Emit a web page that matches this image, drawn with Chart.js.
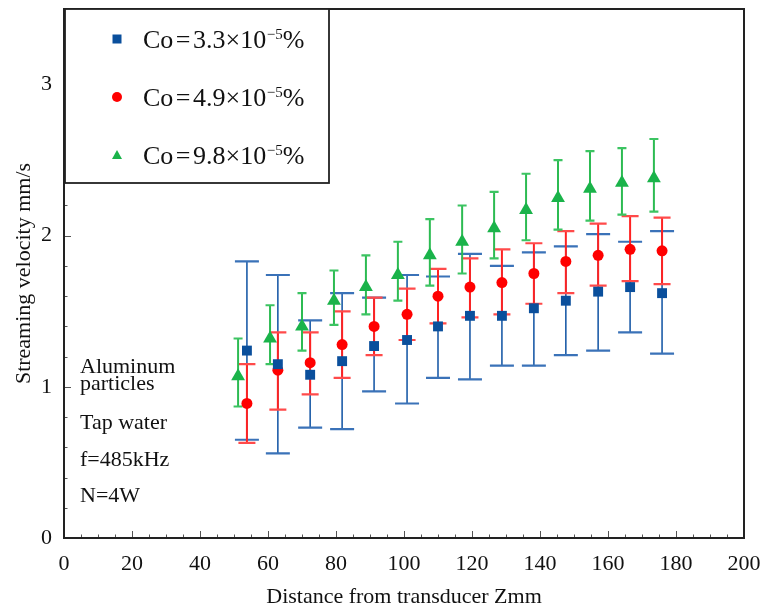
<!DOCTYPE html>
<html><head><meta charset="utf-8">
<script src="https://cdn.jsdelivr.net/npm/chart.js@4.4.1/dist/chart.umd.min.js"></script>
<style>html,body{margin:0;padding:0;background:#fff}#wrap{width:766px;height:610px}</style>
</head><body><div id="wrap"><canvas id="c" width="766" height="610"></canvas></div>
<script>
// ---- data ----
const distanceAB = [53.8, 62.9, 72.4, 81.8, 91.2, 100.9, 110.0, 119.4, 128.8, 138.2, 147.6, 157.1, 166.5, 175.9];
const distanceC  = [51.2, 60.6, 70.0, 79.4, 88.8, 98.2, 107.6, 117.1, 126.5, 135.9, 145.3, 154.7, 164.1, 173.5];

const velA      = [1.24, 1.15, 1.08, 1.17, 1.27, 1.31, 1.40, 1.47, 1.47, 1.52, 1.57, 1.63, 1.66, 1.62];
const velAUpper = [1.83, 1.74, 1.44, 1.62, 1.59, 1.74, 1.73, 1.88, 1.80, 1.89, 1.93, 2.01, 1.96, 2.03];
const velALower = [0.65, 0.56, 0.73, 0.72, 0.97, 0.89, 1.06, 1.05, 1.14, 1.14, 1.21, 1.24, 1.36, 1.22];

const velB      = [0.89, 1.11, 1.16, 1.28, 1.40, 1.48, 1.60, 1.66, 1.69, 1.75, 1.83, 1.87, 1.91, 1.90];
const velBUpper = [1.15, 1.36, 1.36, 1.50, 1.59, 1.65, 1.78, 1.85, 1.91, 1.95, 2.03, 2.08, 2.13, 2.12];
const velBLower = [0.63, 0.85, 0.95, 1.06, 1.21, 1.31, 1.42, 1.46, 1.48, 1.55, 1.62, 1.67, 1.70, 1.68];

const velC      = [1.07, 1.32, 1.40, 1.57, 1.66, 1.74, 1.87, 1.96, 2.05, 2.17, 2.25, 2.31, 2.35, 2.38];
const velCUpper = [1.32, 1.54, 1.62, 1.77, 1.87, 1.96, 2.11, 2.20, 2.29, 2.41, 2.50, 2.56, 2.58, 2.64];
const velCLower = [0.87, 1.15, 1.24, 1.41, 1.48, 1.57, 1.67, 1.75, 1.85, 1.97, 2.04, 2.10, 2.14, 2.16];

const seriesMantissa = ['3.3', '4.9', '9.8'];
const notes = ['Aluminum', 'particles', 'Tap water', 'f=485kHz', 'N=4W'];
const xTitle = 'Distance from transducer Zmm';
const yTitle = 'Streaming velocity mm/s';

// ---- helpers ----
const SERIF = '"Liberation Serif", "Times New Roman", serif';
const pts = (xs, ys) => xs.map((x, i) => ({x, y: ys[i]}));

const errSpecs = [
  {xs: distanceAB, up: velAUpper, lo: velALower, color: '#1d5ca8', cap: '#3a72b8', capW: 24, lw: 1.6},
  {xs: distanceAB, up: velBUpper, lo: velBLower, color: '#ff2222', cap: '#ff4a4a', capW: 17, lw: 2},
  {xs: distanceC,  up: velCUpper, lo: velCLower, color: '#2cbb52', cap: '#3cc462', capW: 9,  lw: 2}
];

const errorBars = {
  id: 'errorBars',
  beforeDatasetsDraw(chart) {
    const {ctx, scales: {x, y}} = chart;
    ctx.save();
    errSpecs.forEach(s => {
      s.xs.forEach((xv, i) => {
        const px = x.getPixelForValue(xv);
        const pt = y.getPixelForValue(s.up[i]);
        const pb = y.getPixelForValue(s.lo[i]);
        ctx.strokeStyle = s.color; ctx.lineWidth = s.lw;
        ctx.beginPath(); ctx.moveTo(px, pt); ctx.lineTo(px, pb); ctx.stroke();
        ctx.strokeStyle = s.cap; ctx.lineWidth = 2.2;
        ctx.beginPath();
        ctx.moveTo(px - s.capW / 2, pt); ctx.lineTo(px + s.capW / 2, pt);
        ctx.moveTo(px - s.capW / 2, pb); ctx.lineTo(px + s.capW / 2, pb);
        ctx.stroke();
      });
    });
    ctx.restore();
  }
};

const frame = {
  id: 'frame',
  afterDraw(chart) {
    const {ctx, chartArea: a, scales: {x, y}} = chart;
    ctx.save();
    // inward tick marks
    ctx.strokeStyle = '#555'; ctx.lineWidth = 1;
    ctx.beginPath();
    for (let v = 0; v <= 200; v += 5) {
      const px = Math.round(x.getPixelForValue(v)) + 0.5;
      const len = v % 20 === 0 ? 7 : 3.5;
      ctx.moveTo(px, a.bottom); ctx.lineTo(px, a.bottom - len);
    }
    for (let k = 0; k <= 17; k++) {
      const v = k * 0.2;
      const py = Math.round(y.getPixelForValue(v)) + 0.5;
      const len = k % 5 === 0 ? 7 : 3.5;
      ctx.moveTo(a.left, py); ctx.lineTo(a.left + len, py);
    }
    ctx.stroke();
    // frame
    ctx.strokeStyle = '#222'; ctx.lineWidth = 2;
    ctx.strokeRect(a.left, a.top, a.right - a.left, a.bottom - a.top);

    // legend box
    const lx = a.left + 1, ly = a.top, lw = 264, lh = 174;
    ctx.fillStyle = '#fff';
    ctx.fillRect(lx, ly, lw, lh);
    ctx.strokeStyle = '#222'; ctx.lineWidth = 1.8;
    ctx.strokeRect(lx, ly, lw, lh);
    const colors = ['#0a4f9c', '#ff0000', '#1ab34a'];
    const rowsY = [39, 97, 155];
    rowsY.forEach((cy, i) => {
      ctx.fillStyle = colors[i];
      const mx = 117;
      ctx.beginPath();
      if (i === 0) ctx.rect(mx - 4.5, cy - 4.5, 9, 9);
      else if (i === 1) ctx.arc(mx, cy, 5, 0, Math.PI * 2);
      else { ctx.moveTo(mx, cy - 5); ctx.lineTo(mx + 5, cy + 4); ctx.lineTo(mx - 5, cy + 4); ctx.closePath(); }
      ctx.fill();
      // label
      ctx.fillStyle = '#111';
      ctx.textBaseline = 'alphabetic'; ctx.textAlign = 'left';
      const base = cy + 9;
      let tx = 143;
      ctx.font = '26px ' + SERIF;
      const put = (t, gap) => { ctx.fillText(t, tx, base); tx += ctx.measureText(t).width + (gap || 0); };
      put('Co', 2.5);
      put('=', 2.5);
      put(seriesMantissa[i] + '×10', 0.5);
      ctx.font = '15px ' + SERIF;
      ctx.fillText('−5', tx, base - 9);
      tx += ctx.measureText('−5').width;
      ctx.font = '26px ' + SERIF;
      ctx.fillText('%', tx, base);
    });

    // notes
    ctx.fillStyle = '#111';
    ctx.font = '22px ' + SERIF;
    ctx.textAlign = 'left'; ctx.textBaseline = 'alphabetic';
    const noteY = [373, 390, 429, 466, 502];
    notes.forEach((t, i) => ctx.fillText(t, 80, noteY[i]));
    ctx.restore();
  }
};

const tickFont = {family: SERIF, size: 22};

new Chart(document.getElementById('c'), {
  type: 'scatter',
  data: {
    datasets: [
      {label: 'A', data: pts(distanceAB, velA), pointStyle: 'rect', pointRadius: 7, backgroundColor: '#0a4f9c', borderColor: '#0a4f9c', borderWidth: 0},
      {label: 'B', data: pts(distanceAB, velB), pointStyle: 'circle', pointRadius: 5.5, backgroundColor: '#ff0000', borderColor: '#ff0000', borderWidth: 0},
      {label: 'C', data: pts(distanceC, velC), pointStyle: 'triangle', pointRadius: 8, backgroundColor: '#1ab34a', borderColor: '#1ab34a', borderWidth: 0}
    ]
  },
  options: {
    responsive: false,
    animation: false,
    layout: {padding: {top: 9, right: 22, left: 0, bottom: 0}},
    plugins: {legend: {display: false}, tooltip: {enabled: false}},
    scales: {
      x: {
        type: 'linear', min: 0, max: 200,
        afterFit(s) { s.height = 72; s.paddingLeft = 0; s.paddingRight = 0; },
        ticks: {stepSize: 20, font: tickFont, color: '#111', padding: 13, maxRotation: 0, autoSkip: false},
        grid: {display: false, drawTicks: false},
        border: {display: false},
        title: {display: true, text: xTitle, font: {family: SERIF, size: 22, lineHeight: 1.2}, color: '#111', padding: {top: 0, bottom: 0}}
      },
      y: {
        type: 'linear', min: 0, max: 3.5,
        afterFit(s) { s.width = 64; s.paddingTop = 0; s.paddingBottom = 0; },
        ticks: {stepSize: 1, font: tickFont, color: '#111', padding: 12, callback: v => Number.isInteger(v) ? String(v) : ''},
        grid: {display: false, drawTicks: false},
        border: {display: false},
        title: {display: true, text: yTitle, font: {family: SERIF, size: 22, lineHeight: 1.2}, color: '#111', padding: {top: 11, bottom: 0}}
      }
    }
  },
  plugins: [errorBars, frame]
});
</script>
</body></html>
